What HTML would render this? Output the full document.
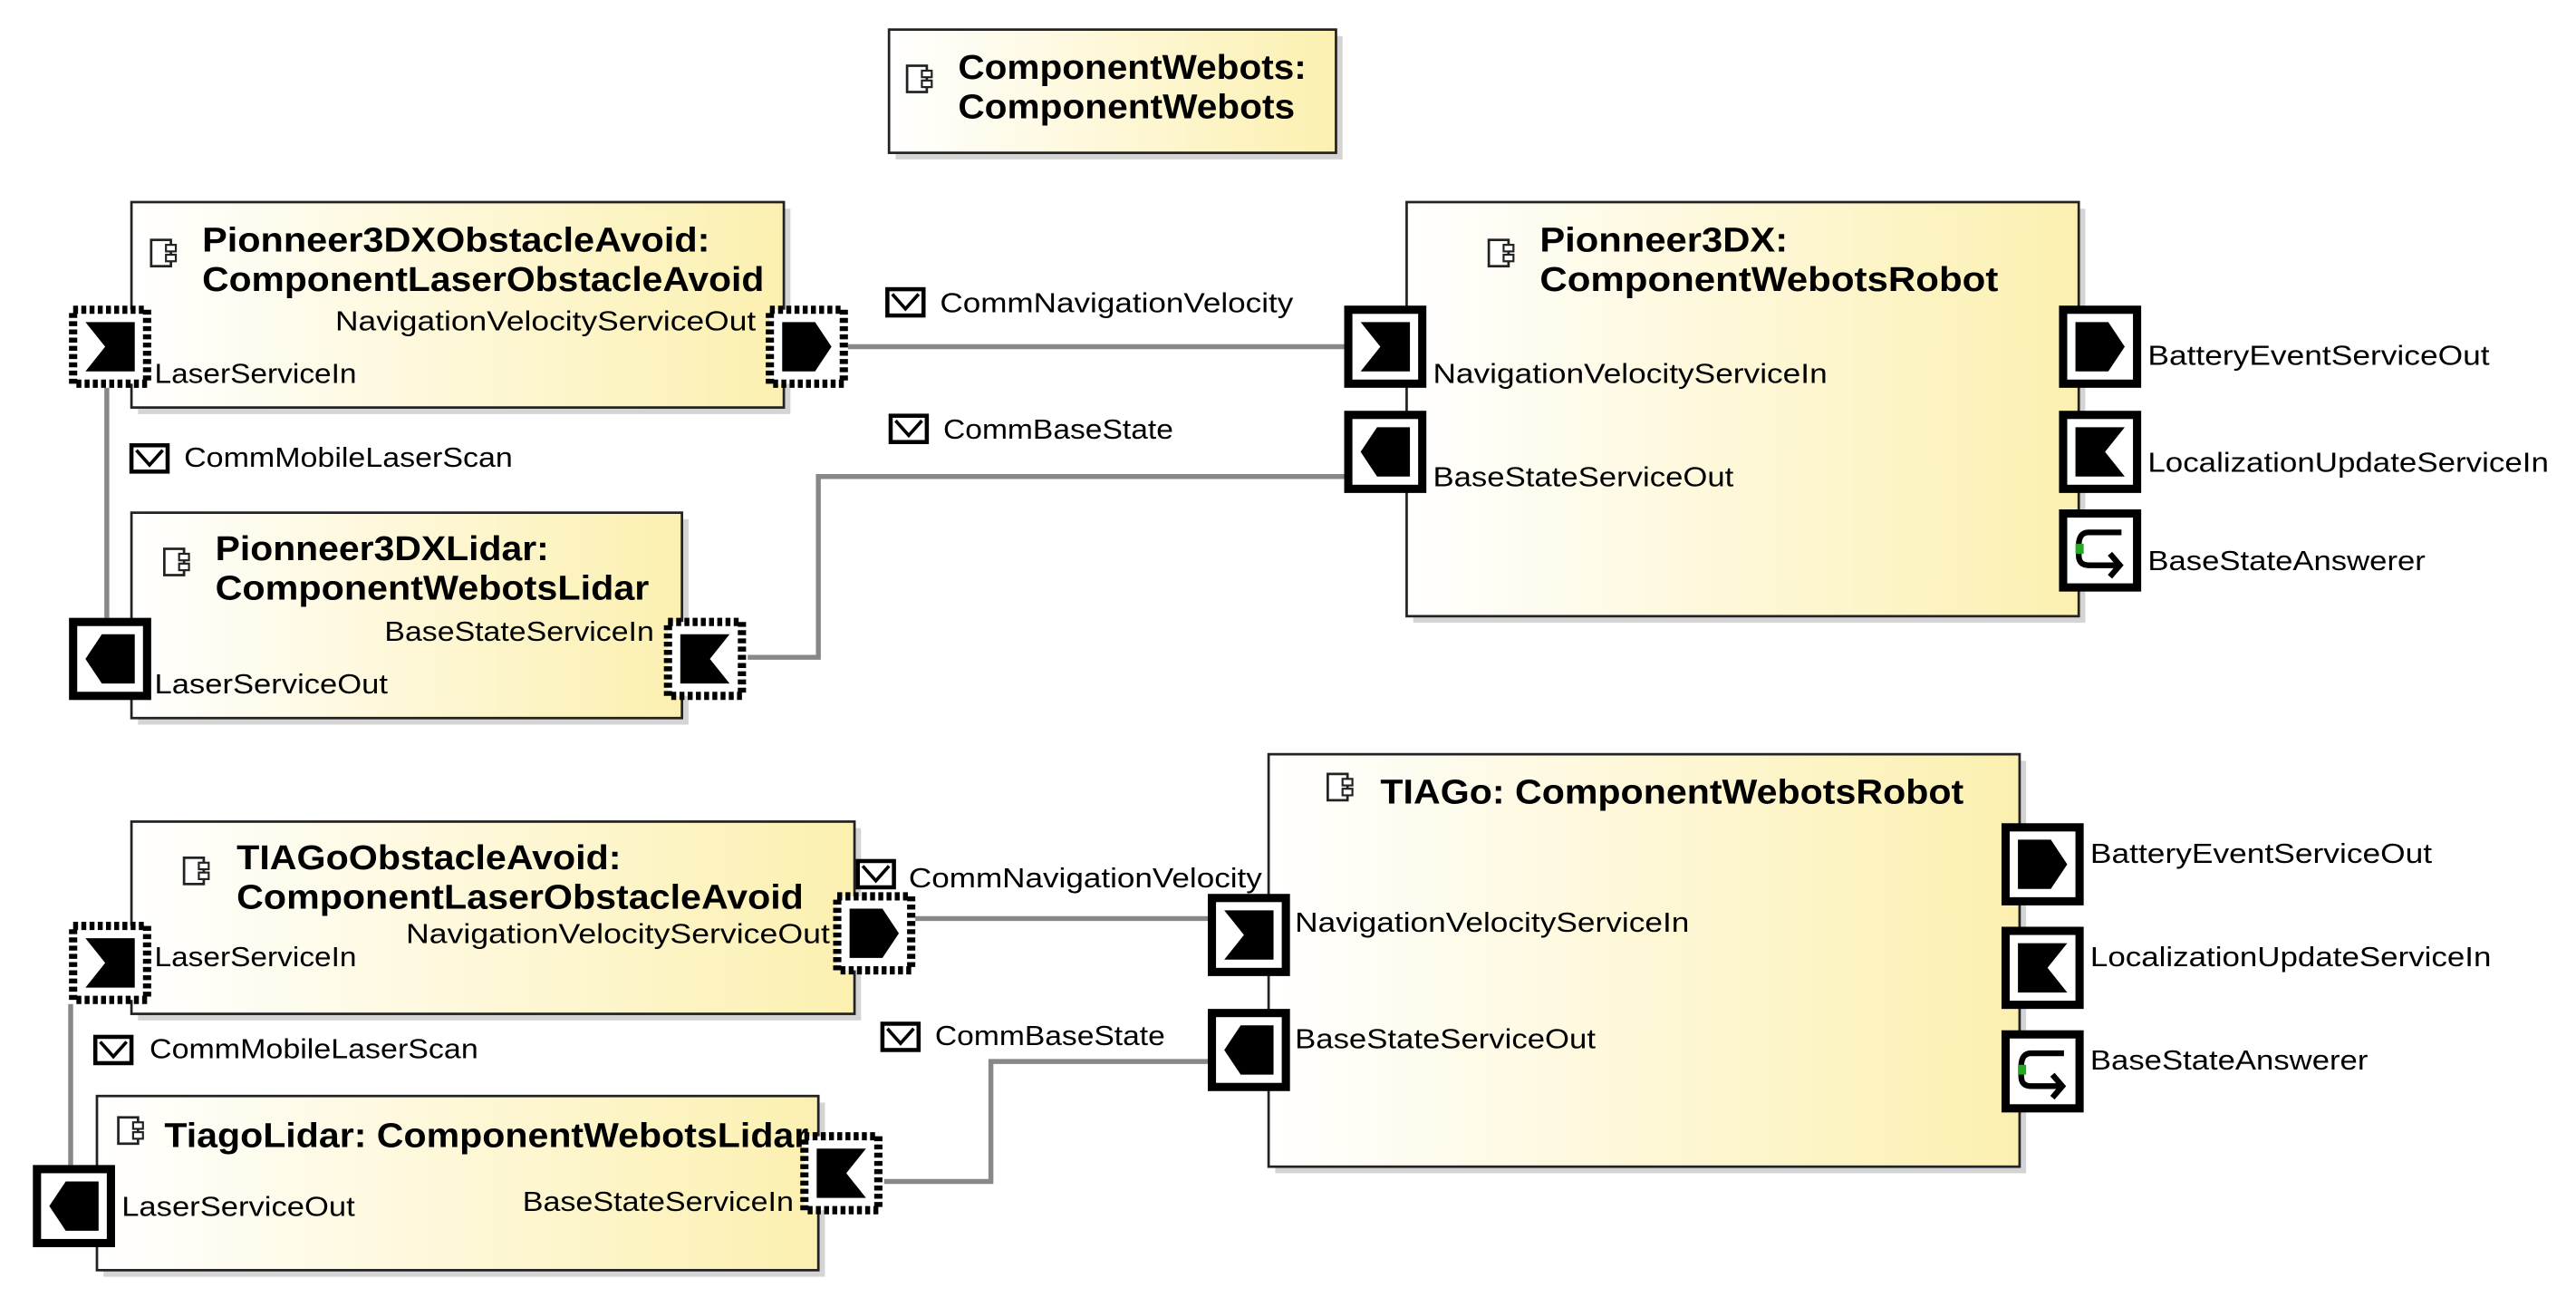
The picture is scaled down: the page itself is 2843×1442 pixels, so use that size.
<!DOCTYPE html>
<html><head><meta charset="utf-8"><style>
html,body{margin:0;padding:0;background:#fff;}
svg{display:block;}
text{font-family:"Liberation Sans",sans-serif;fill:#000;}
.t{font-size:17px;}
.b{font-size:21px;font-weight:bold;}
</style></head><body>
<svg width="2843" height="1442" viewBox="0 0 1567.6 795.4" preserveAspectRatio="none" xmlns="http://www.w3.org/2000/svg">
<defs>
<linearGradient id="g" x1="0" y1="0" x2="1" y2="0">
<stop offset="0" stop-color="#ffffff"/><stop offset="1" stop-color="#fcf0b0"/>
</linearGradient>
<g id="ci"><rect x="0" y="0" width="12" height="16" fill="#fff" stroke="#222" stroke-width="1.5"/><rect x="9" y="3" width="6" height="4" fill="#fff" stroke="#222" stroke-width="1.2"/><rect x="9" y="9" width="6" height="4" fill="#fff" stroke="#222" stroke-width="1.2"/></g>
<g id="env"><rect x="0" y="0" width="22" height="16" fill="#fff" stroke="#000" stroke-width="2.5"/><path d="M3 3 L11 12 L19 3" fill="none" stroke="#000" stroke-width="2"/></g>
<g id="sol"><rect x="2.5" y="2.5" width="45" height="45" fill="#fff" stroke="#000" stroke-width="5"/></g>
<g id="dot"><rect x="2.5" y="2.5" width="45" height="45" fill="#fff" stroke="#000" stroke-width="5" stroke-dasharray="3,2"/></g>
<polygon id="inL" points="10,10 40,10 40,40 10,40 22,25"/>
<polygon id="inR" points="10,10 40,10 28,25 40,40 10,40"/>
<polygon id="outR" points="10,10 30,10 40,25 30,40 10,40"/>
<polygon id="outL" points="40,10 20,10 10,25 20,40 40,40"/>
<g id="ans"><path d="M38 14 H18 Q12 14 12 22 V28 Q12 34 18 34 H37 M31 27 L37 34 L31 41" fill="none" stroke="#000" stroke-width="3.5"/><rect x="10" y="21" width="5" height="6" fill="#2a2"/></g>
</defs>

<g stroke="#888" stroke-width="3" fill="none">
<path d="M516 211 H818"/>
<path d="M818 290 H498 V400 H455"/>
<path d="M65 236 V376"/>
<path d="M557 559 H735"/>
<path d="M735 646 H603 V719 H538"/>
<path d="M43 611 V709"/>
</g>

<rect x="545" y="22" width="272" height="75" fill="#d4d4d4"/>
<rect x="541" y="18" width="272" height="75" fill="url(#g)" stroke="#222" stroke-width="1.5"/>
<use href="#ci" x="552" y="40"/>
<text class="b" x="583" y="48" textLength="212" lengthAdjust="spacingAndGlyphs">ComponentWebots:</text>
<text class="b" x="583" y="72" textLength="205" lengthAdjust="spacingAndGlyphs">ComponentWebots</text>

<rect x="84" y="127" width="397" height="125" fill="#d4d4d4"/>
<rect x="80" y="123" width="397" height="125" fill="url(#g)" stroke="#222" stroke-width="1.5"/>
<use href="#ci" x="92" y="146"/>
<text class="b" x="123" y="153" textLength="309" lengthAdjust="spacingAndGlyphs">Pionneer3DXObstacleAvoid:</text>
<text class="b" x="123" y="177" textLength="342" lengthAdjust="spacingAndGlyphs">ComponentLaserObstacleAvoid</text>
<text class="t" x="204" y="201" textLength="256" lengthAdjust="spacingAndGlyphs">NavigationVelocityServiceOut</text>
<text class="t" x="94" y="233" textLength="123" lengthAdjust="spacingAndGlyphs">LaserServiceIn</text>
<g transform="translate(42,186)"><use href="#dot"/><use href="#inL"/></g>
<g transform="translate(466,186)"><use href="#dot"/><use href="#outR"/></g>

<use href="#env" x="540" y="176"/>
<text class="t" x="572" y="190" textLength="215" lengthAdjust="spacingAndGlyphs">CommNavigationVelocity</text>
<use href="#env" x="542" y="253"/>
<text class="t" x="574" y="267" textLength="140" lengthAdjust="spacingAndGlyphs">CommBaseState</text>
<use href="#env" x="80" y="271"/>
<text class="t" x="112" y="284" textLength="200" lengthAdjust="spacingAndGlyphs">CommMobileLaserScan</text>

<rect x="860" y="127" width="409" height="252" fill="#d4d4d4"/>
<rect x="856" y="123" width="409" height="252" fill="url(#g)" stroke="#222" stroke-width="1.5"/>
<use href="#ci" x="906" y="146"/>
<text class="b" x="937" y="153" textLength="151" lengthAdjust="spacingAndGlyphs">Pionneer3DX:</text>
<text class="b" x="937" y="177" textLength="279" lengthAdjust="spacingAndGlyphs">ComponentWebotsRobot</text>
<g transform="translate(818,186)"><use href="#sol"/><use href="#inL"/></g>
<g transform="translate(818,250)"><use href="#sol"/><use href="#outL"/></g>
<text class="t" x="872" y="233" textLength="240" lengthAdjust="spacingAndGlyphs">NavigationVelocityServiceIn</text>
<text class="t" x="872" y="296" textLength="183" lengthAdjust="spacingAndGlyphs">BaseStateServiceOut</text>
<g transform="translate(1253,186)"><use href="#sol"/><use href="#outR"/></g>
<g transform="translate(1253,250)"><use href="#sol"/><use href="#inR"/></g>
<g transform="translate(1253,310)"><use href="#sol"/><use href="#ans"/></g>
<text class="t" x="1307" y="222" textLength="208" lengthAdjust="spacingAndGlyphs">BatteryEventServiceOut</text>
<text class="t" x="1307" y="287" textLength="244" lengthAdjust="spacingAndGlyphs">LocalizationUpdateServiceIn</text>
<text class="t" x="1307" y="347" textLength="169" lengthAdjust="spacingAndGlyphs">BaseStateAnswerer</text>

<rect x="84" y="316" width="335" height="125" fill="#d4d4d4"/>
<rect x="80" y="312" width="335" height="125" fill="url(#g)" stroke="#222" stroke-width="1.5"/>
<use href="#ci" x="100" y="334"/>
<text class="b" x="131" y="341" textLength="203" lengthAdjust="spacingAndGlyphs">Pionneer3DXLidar:</text>
<text class="b" x="131" y="365" textLength="264" lengthAdjust="spacingAndGlyphs">ComponentWebotsLidar</text>
<text class="t" x="234" y="390" textLength="164" lengthAdjust="spacingAndGlyphs">BaseStateServiceIn</text>
<text class="t" x="94" y="422" textLength="142" lengthAdjust="spacingAndGlyphs">LaserServiceOut</text>
<g transform="translate(42,376)"><use href="#sol"/><use href="#outL"/></g>
<g transform="translate(404,376)"><use href="#dot"/><use href="#inR"/></g>

<rect x="776" y="463" width="457" height="251" fill="#d4d4d4"/>
<rect x="772" y="459" width="457" height="251" fill="url(#g)" stroke="#222" stroke-width="1.5"/>
<use href="#ci" x="808" y="471"/>
<text class="b" x="840" y="489" textLength="355" lengthAdjust="spacingAndGlyphs">TIAGo: ComponentWebotsRobot</text>
<g transform="translate(735,544)"><use href="#sol"/><use href="#inL"/></g>
<g transform="translate(735,614)"><use href="#sol"/><use href="#outL"/></g>
<text class="t" x="788" y="567" textLength="240" lengthAdjust="spacingAndGlyphs">NavigationVelocityServiceIn</text>
<text class="t" x="788" y="638" textLength="183" lengthAdjust="spacingAndGlyphs">BaseStateServiceOut</text>
<g transform="translate(1218,501)"><use href="#sol"/><use href="#outR"/></g>
<g transform="translate(1218,564)"><use href="#sol"/><use href="#inR"/></g>
<g transform="translate(1218,627)"><use href="#sol"/><use href="#ans"/></g>
<text class="t" x="1272" y="525" textLength="208" lengthAdjust="spacingAndGlyphs">BatteryEventServiceOut</text>
<text class="t" x="1272" y="588" textLength="244" lengthAdjust="spacingAndGlyphs">LocalizationUpdateServiceIn</text>
<text class="t" x="1272" y="651" textLength="169" lengthAdjust="spacingAndGlyphs">BaseStateAnswerer</text>

<rect x="84" y="504" width="440" height="117" fill="#d4d4d4"/>
<rect x="80" y="500" width="440" height="117" fill="url(#g)" stroke="#222" stroke-width="1.5"/>
<use href="#ci" x="112" y="522"/>
<text class="b" x="144" y="529" textLength="234" lengthAdjust="spacingAndGlyphs">TIAGoObstacleAvoid:</text>
<text class="b" x="144" y="553" textLength="345" lengthAdjust="spacingAndGlyphs">ComponentLaserObstacleAvoid</text>
<text class="t" x="247" y="574" textLength="258" lengthAdjust="spacingAndGlyphs">NavigationVelocityServiceOut</text>
<text class="t" x="94" y="588" textLength="123" lengthAdjust="spacingAndGlyphs">LaserServiceIn</text>
<g transform="translate(42,561)"><use href="#dot"/><use href="#inL"/></g>
<g transform="translate(507,543)"><use href="#dot"/><use href="#outR"/></g>
<use href="#env" x="522" y="524"/>
<text class="t" x="553" y="540" textLength="215" lengthAdjust="spacingAndGlyphs">CommNavigationVelocity</text>
<use href="#env" x="537" y="623"/>
<text class="t" x="569" y="636" textLength="140" lengthAdjust="spacingAndGlyphs">CommBaseState</text>
<use href="#env" x="58" y="631"/>
<text class="t" x="91" y="644" textLength="200" lengthAdjust="spacingAndGlyphs">CommMobileLaserScan</text>

<rect x="63" y="671" width="439" height="106" fill="#d4d4d4"/>
<rect x="59" y="667" width="439" height="106" fill="url(#g)" stroke="#222" stroke-width="1.5"/>
<use href="#ci" x="72" y="680"/>
<text class="b" x="100" y="698" textLength="392" lengthAdjust="spacingAndGlyphs">TiagoLidar: ComponentWebotsLidar</text>
<text class="t" x="318" y="737" textLength="165" lengthAdjust="spacingAndGlyphs">BaseStateServiceIn</text>
<text class="t" x="74" y="740" textLength="142" lengthAdjust="spacingAndGlyphs">LaserServiceOut</text>
<g transform="translate(20,709)"><use href="#sol"/><use href="#outL"/></g>
<g transform="translate(487,689)"><use href="#dot"/><use href="#inR"/></g>
</svg>
</body></html>
